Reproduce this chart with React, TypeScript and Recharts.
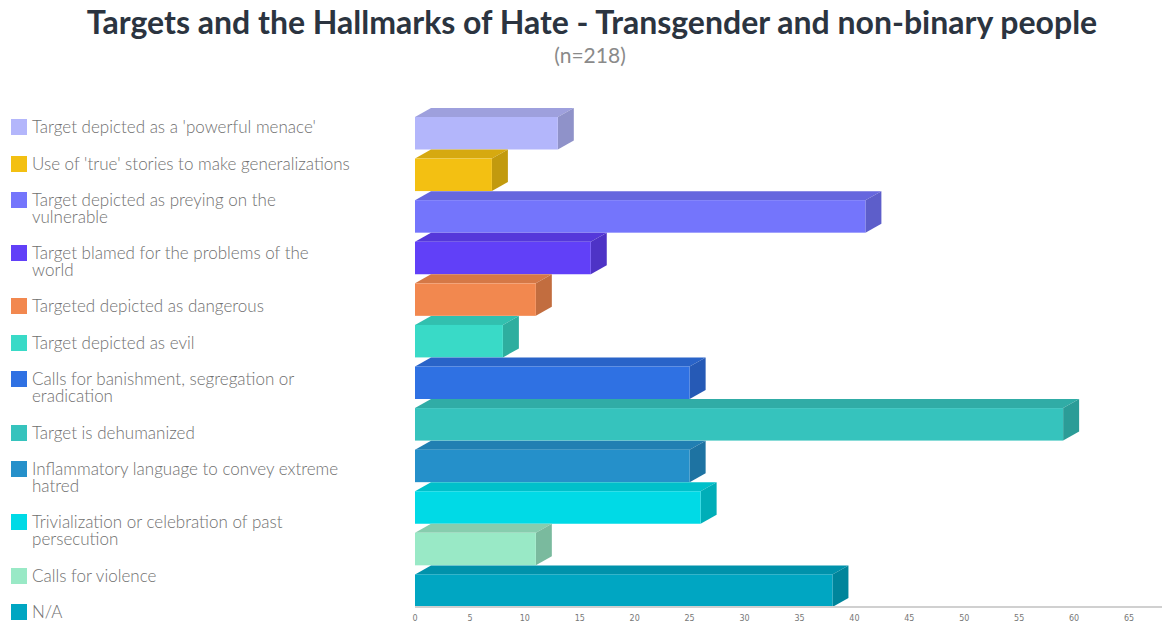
import { Bar, BarChart, Cell, XAxis, YAxis } from "recharts";

const categories = [
  "Target depicted as a 'powerful menace'",
  "Use of 'true' stories to make generalizations",
  "Target depicted as preying on the vulnerable",
  "Target blamed for the problems of the world",
  "Targeted depicted as dangerous",
  "Target depicted as evil",
  "Calls for banishment, segregation or eradication",
  "Target is dehumanized",
  "Inflammatory language to convey extreme hatred",
  "Trivialization or celebration of past persecution",
  "Calls for violence",
  "N/A",
];

const counts = [13, 7, 41, 16, 11, 8, 25, 59, 25, 26, 11, 38];

const colors = [
  "#b3b6fb",
  "#f3c012",
  "#7475fc",
  "#6140f8",
  "#f2884f",
  "#39dac7",
  "#2f71e3",
  "#36c3bd",
  "#2590ca",
  "#00dae6",
  "#99e9c6",
  "#00a6c2",
];

const xTicks = [0, 5, 10, 15, 20, 25, 30, 35, 40, 45, 50, 55, 60, 65];

const data = categories.map((name, i) => ({ name, count: counts[i] }));

const DX = 16;
const DY = 9;

function shade(hex: string, f: number): string {
  const n = parseInt(hex.slice(1), 16);
  const r = Math.round(((n >> 16) & 255) * f);
  const g = Math.round(((n >> 8) & 255) * f);
  const b = Math.round((n & 255) * f);
  return `rgb(${r},${g},${b})`;
}

function Box3D(props: any) {
  const { x, y, width, height, index } = props;
  const fill = colors[index];
  const top = y + DY;
  const bottom = y + height - 0.5;
  const right = x + width;
  return (
    <g>
      <polygon
        points={`${x},${top} ${x + DX},${top - DY} ${right + DX},${top - DY} ${right},${top}`}
        fill={shade(fill, 0.88)}
      />
      <polygon
        points={`${right},${top} ${right + DX},${top - DY} ${right + DX},${bottom - DY} ${right},${bottom}`}
        fill={shade(fill, 0.8)}
      />
      <rect x={x} y={top} width={width} height={bottom - top} fill={fill} />
    </g>
  );
}

export default function App() {
  return (
    <div
      style={{
        position: "absolute",
        left: 0,
        top: 0,
        width: 1162,
        height: 630,
        background: "#fff",
        fontFamily: "Lato, sans-serif",
        overflow: "hidden",
      }}
    >
      <div
        style={{
          position: "absolute",
          left: 22,
          width: 1140,
          top: 2,
          textAlign: "center",
          fontSize: 32,
          fontWeight: 700,
          color: "#2b3440",
          lineHeight: "40px",
        }}
      >
        Targets and the Hallmarks of Hate - Transgender and non-binary people
      </div>
      <div
        style={{
          position: "absolute",
          left: 20,
          width: 1140,
          top: 42,
          textAlign: "center",
          fontSize: 21,
          color: "#8a8a8a",
          lineHeight: "26px",
        }}
      >
        (n=218)
      </div>

      <div style={{ position: "absolute", left: 11, top: 119, width: 360 }}>
        {categories.map((name, i) => (
          <div key={name} style={{ display: "flex", alignItems: "flex-start", marginBottom: 19.8 }}>
            <div style={{ width: 16, height: 16, background: colors[i], flexShrink: 0 }} />
            <div
              style={{
                marginLeft: 5,
                fontSize: 17,
                fontWeight: 300,
                lineHeight: "16.7px",
                color: "#707070",
                width: 321,
              }}
            >
              {name}
            </div>
          </div>
        ))}
      </div>

      <div style={{ position: "absolute", left: 0, top: 0 }}>
        <BarChart
          width={1162}
          height={630}
          data={data}
          layout="vertical"
          margin={{ top: 108, right: 0, bottom: 0, left: 415 }}
          barCategoryGap={0}
        >
          <XAxis
            type="number"
            domain={[0, 68]}
            ticks={xTicks}
            height={23}
            axisLine={{ stroke: "#d0d0d0", strokeWidth: 2 }}
            tickLine={false}
            tick={{ fontSize: 8, fill: "#777", fontFamily: "DejaVu Sans" }}
            tickMargin={2}
            interval={0}
          />
          <YAxis
            type="category"
            dataKey="name"
            width={0}
            tick={false}
            tickLine={false}
            axisLine={{ stroke: "#c8c8c8" }}
          />
          <Bar dataKey="count" shape={Box3D} isAnimationActive={false}>
            {data.map((d, i) => (
              <Cell key={d.name} fill={colors[i]} />
            ))}
          </Bar>
        </BarChart>
      </div>
    </div>
  );
}
